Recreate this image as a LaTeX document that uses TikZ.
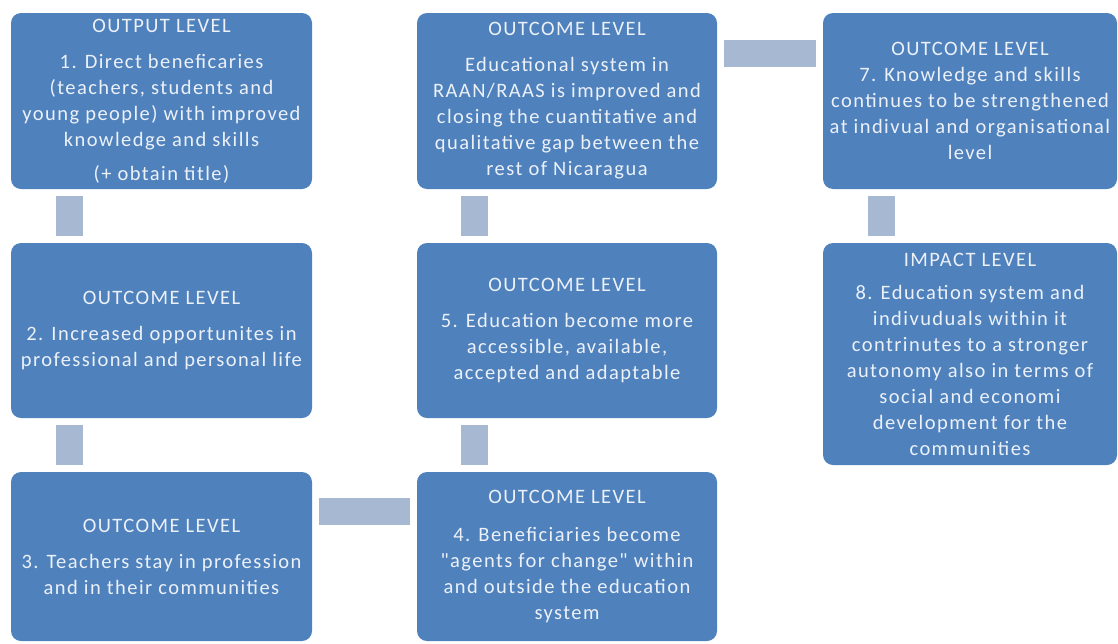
\documentclass[tikz,border=0pt]{standalone}
\usepackage{fontspec}
\setmainfont{Carlito}[LetterSpace=7, Ligatures=TeXOff]
\usetikzlibrary{calc}
\definecolor{boxblue}{RGB}{79,129,189}
\definecolor{boxtext}{RGB}{236,241,248}
\definecolor{linkgray}{RGB}{167,184,211}
\begin{document}
\begin{tikzpicture}[x=1pt,y=-1pt,
  levelbox/.style={fill=boxblue, rounded corners=10pt, text=boxtext, align=center,
    inner sep=0pt, font=\fontsize{20.5}{26}\selectfont},
  link/.style={draw=linkgray, line width=27pt, shorten <=6.5pt, shorten >=6.5pt}]
\useasboundingbox (0,0) rectangle (1118,643);

% left column
\node[levelbox, minimum width=301pt, minimum height=176pt] (b1) at (161.5,101)
  {OUTPUT LEVEL\\[10pt] 1. Direct beneficaries\\ (teachers, students and\\ young people) with improved\\ knowledge and skills\\[8pt] (+ obtain title)};
\node[levelbox, minimum width=301pt, minimum height=175pt] (b2) at (161.5,330.5)
  {OUTCOME LEVEL\\[10pt] 2. Increased  opportunites in\\ professional and personal life};
\node[levelbox, minimum width=301pt, minimum height=169pt] (b3) at (161.5,556.5)
  {OUTCOME LEVEL\\[10pt] 3. Teachers stay in profession\\ and in their communities};

% middle column
\node[levelbox, minimum width=300pt, minimum height=176pt] (b6) at (567,101)
  {OUTCOME LEVEL\\[10pt] Educational system in\\ RAAN/RAAS is improved and\\ closing the cuantitative and\\ qualitative gap between the\\ rest of Nicaragua};
\node[levelbox, minimum width=300pt, minimum height=175pt] (b5) at (567,330.5)
  {OUTCOME LEVEL\\[10pt] 5. Education become more\\ accessible, available,\\ accepted and adaptable};
\node[levelbox, minimum width=300pt, minimum height=169pt] (b4) at (567,556.5)
  {OUTCOME LEVEL\\[12pt] 4. Beneficiaries become\\ "agents for change" within\\ and outside the education\\ system};

% right column
\node[levelbox, minimum width=294pt, minimum height=176pt] (b7) at (970,101)
  {OUTCOME LEVEL\\ 7. Knowledge and skills\\ continues to be strengthened\\ at indivual and organisational\\ level};
\node[levelbox, minimum width=294pt, minimum height=222pt] (b8) at (970,354)
  {IMPACT LEVEL\\[7pt] 8. Education system and\\ indivuduals within it\\ contrinutes to a stronger\\ autonomy also in terms of\\ social and economi\\ development for the\\ communities};

% connecting bars
\draw[link] ($(b1.south west)+(58.5,0)$) -- ($(b2.north west)+(58.5,0)$);
\draw[link] ($(b2.south west)+(58.5,0)$) -- ($(b3.north west)+(58.5,0)$);
\draw[link] ($(b3.north east)+(0,39.5)$) -- ($(b4.north west)+(0,39.5)$);
\draw[link] ($(b4.north west)+(58,0)$) -- ($(b5.south west)+(58,0)$);
\draw[link] ($(b5.north west)+(58,0)$) -- ($(b6.south west)+(58,0)$);
\draw[link] ($(b6.north east)+(0,41)$) -- ($(b7.north west)+(0,41)$);
\draw[link] ($(b7.south west)+(58.5,0)$) -- ($(b8.north west)+(58.5,0)$);
\end{tikzpicture}
\end{document}
